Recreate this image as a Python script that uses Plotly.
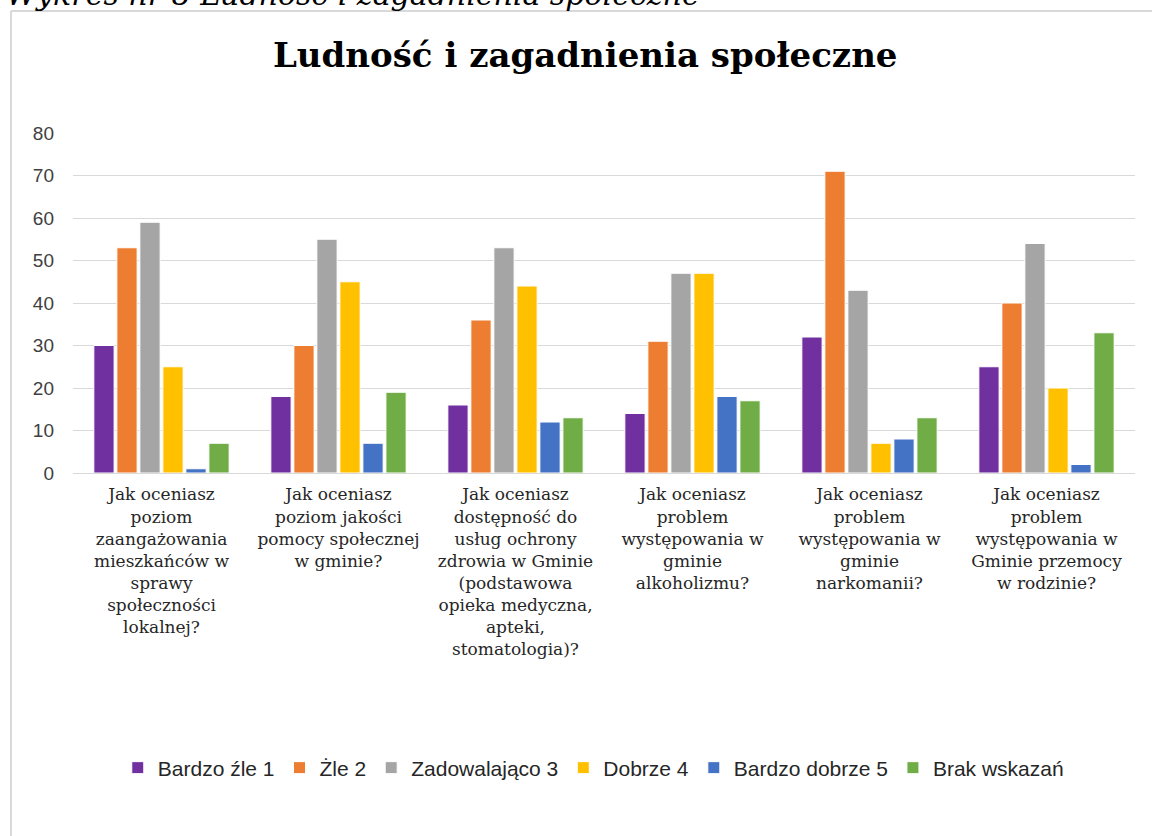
import plotly.graph_objects as go

# --- data ---
categories = [
    "Jak oceniasz<br>poziom<br>zaangażowania<br>mieszkańców w<br>sprawy<br>społeczności<br>lokalnej?",
    "Jak oceniasz<br>poziom jakości<br>pomocy społecznej<br>w gminie?",
    "Jak oceniasz<br>dostępność do<br>usług ochrony<br>zdrowia w Gminie<br>(podstawowa<br>opieka medyczna,<br>apteki,<br>stomatologia)?",
    "Jak oceniasz<br>problem<br>występowania w<br>gminie<br>alkoholizmu?",
    "Jak oceniasz<br>problem<br>występowania w<br>gminie<br>narkomanii?",
    "Jak oceniasz<br>problem<br>występowania w<br>Gminie przemocy<br>w rodzinie?",
]
series_names = ["Bardzo źle 1", "Żle 2", "Zadowalająco 3", "Dobrze 4", "Bardzo dobrze 5", "Brak wskazań"]
bardzo_zle = [30, 18, 16, 14, 32, 25]
zle = [53, 30, 36, 31, 71, 40]
zadowalajaco = [59, 55, 53, 47, 43, 54]
dobrze = [25, 45, 44, 47, 7, 20]
bardzo_dobrze = [1, 7, 12, 18, 8, 2]
brak = [7, 19, 13, 17, 13, 33]
y_ticks = [0, 10, 20, 30, 40, 50, 60, 70, 80]

series_values = [bardzo_zle, zle, zadowalajaco, dobrze, bardzo_dobrze, brak]
colors = ['#7030A0', '#ED7D31', '#A5A5A5', '#FFC000', '#4472C4', '#70AD47']

W, H = 1152, 836
L, R, T, B = 73, 17, 133, 363
plot_h = H - T - B
plot_w = W - L - R


def py(pix):
    """pixel row -> paper y"""
    return (H - B - pix) / plot_h


def px(pix):
    return (pix - L) / plot_w


fig = go.Figure()
for name, vals, col in zip(series_names, series_values, colors):
    fig.add_trace(go.Bar(
        x=categories, y=vals, name=name, marker_color=col,
        marker_line=dict(color='white', width=1),
    ))

fig.update_layout(
    width=W, height=H,
    margin=dict(l=L, r=R, t=T, b=B),
    paper_bgcolor='white', plot_bgcolor='white',
    barmode='group', bargap=0.22, bargroupgap=0.12,
    title=dict(text='<b>Ludność i zagadnienia społeczne</b>',
               font=dict(family='DejaVu Serif', size=34, color='#000000'),
               x=0.508, xanchor='center', y=1 - 55 / H, yanchor='middle',
               xref='container', yref='container'),
    xaxis=dict(tickfont=dict(family='DejaVu Serif', size=17, color='#262626'),
               showline=True, linecolor='#d9d9d9', linewidth=1,
               ticks='', tickangle=0, ticklabelstandoff=6),
    yaxis=dict(range=[0, 80], tickvals=y_ticks,
               tickfont=dict(family='Liberation Sans', size=19, color='#404040'),
               gridcolor='#d9d9d9', gridwidth=1, zeroline=False,
               ticks='', ticklabelstandoff=18),
    legend=dict(orientation='h', xref='container', yref='container',
                x=0.515, xanchor='center', y=1 - 768 / H, yanchor='middle',
                font=dict(family='Liberation Sans', size=21, color='#262626'),
                itemwidth=30, traceorder='normal'),
    showlegend=True,
)

# chart frame (top and left edges visible)
fig.add_shape(type='line', xref='paper', yref='paper',
              x0=px(11), x1=px(W + 20), y0=py(11), y1=py(11),
              line=dict(color='#d9d9d9', width=2))
fig.add_shape(type='line', xref='paper', yref='paper',
              x0=px(11), x1=px(11), y0=py(11), y1=py(H + 20),
              line=dict(color='#d9d9d9', width=2))

# clipped document caption above the chart
fig.add_annotation(text='<i>Wykres nr 8 Ludność i zagadnienia społeczne</i>',
                   xref='paper', yref='paper', x=px(4), y=py(14),
                   xanchor='left', yanchor='bottom', showarrow=False,
                   font=dict(family='DejaVu Serif', size=30, color='#000000'))

fig.write_html("out.html", config={'displayModeBar': False},
               post_script="document.body.style.margin='0px';document.body.style.overflow='hidden';")
